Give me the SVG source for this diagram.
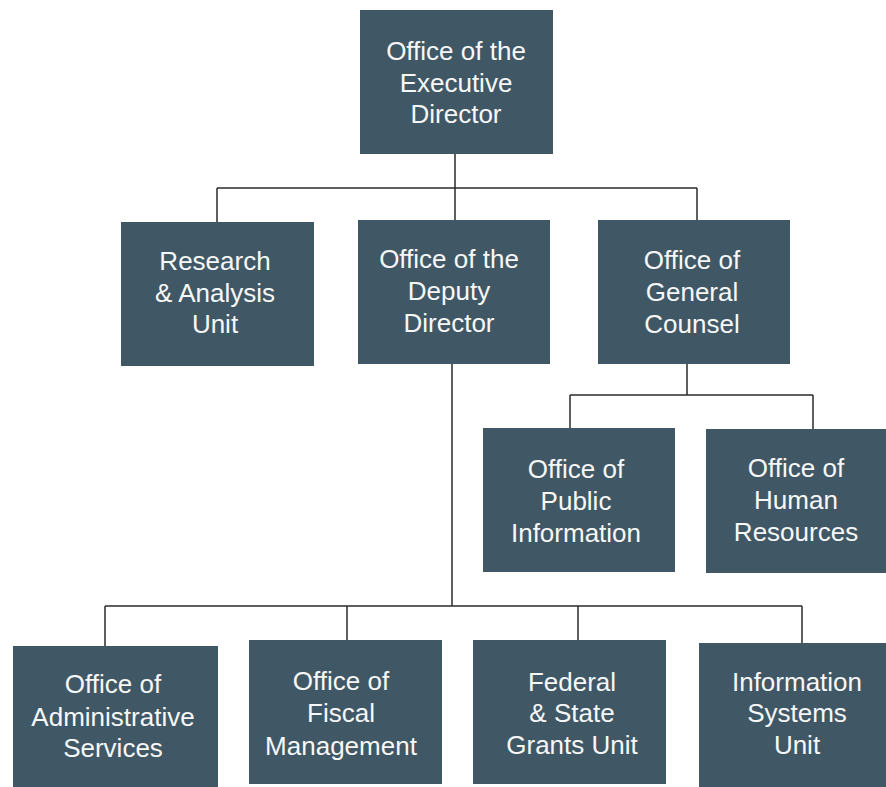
<svg xmlns="http://www.w3.org/2000/svg" width="886" height="787" viewBox="0 0 886 787">
<style>
.box{fill:#405866;}
.t{font-family:"Liberation Sans",Arial,sans-serif;font-size:26px;fill:#f7f7f7;text-anchor:middle;}
.c{stroke:#2b2b2b;stroke-width:1.5;fill:none;}
</style>
<rect width="886" height="787" fill="#ffffff"/>
<g id="connectors">
<path class="c" d="M455,154 V220 M217,188 H697 M217,188 V222 M697,188 V220"/>
<path class="c" d="M452,364 V606 M105,606 H802 M105,606 V646 M347,606 V640 M578,606 V640 M802,606 V643"/>
<path class="c" d="M687,364 V395 M570,395 H813 M570,395 V428 M813,395 V429"/>
</g>
<g id="exec"><rect class="box" x="360" y="10" width="193" height="144"/>
<text class="t" x="456" y="60">Office of the</text><text class="t" x="456" y="92">Executive</text><text class="t" x="456" y="123">Director</text></g>
<g id="research"><rect class="box" x="121" y="222" width="193" height="144"/>
<text class="t" x="215" y="270">Research</text><text class="t" x="215" y="302">&amp; Analysis</text><text class="t" x="215" y="333">Unit</text></g>
<g id="deputy"><rect class="box" x="358" y="220" width="192" height="144"/>
<text class="t" x="449" y="268">Office of the</text><text class="t" x="449" y="300">Deputy</text><text class="t" x="449" y="332">Director</text></g>
<g id="counsel"><rect class="box" x="598" y="220" width="192" height="144"/>
<text class="t" x="692" y="269">Office of</text><text class="t" x="692" y="301">General</text><text class="t" x="692" y="333">Counsel</text></g>
<g id="public"><rect class="box" x="483" y="428" width="192" height="144"/>
<text class="t" x="576" y="478">Office of</text><text class="t" x="576" y="510">Public</text><text class="t" x="576" y="542">Information</text></g>
<g id="hr"><rect class="box" x="706" y="429" width="190" height="144"/>
<text class="t" x="796" y="477">Office of</text><text class="t" x="796" y="509">Human</text><text class="t" x="796" y="541">Resources</text></g>
<g id="admin"><rect class="box" x="13" y="646" width="205" height="150"/>
<text class="t" x="113" y="693">Office of</text><text class="t" x="113" y="726">Administrative</text><text class="t" x="113" y="757">Services</text></g>
<g id="fiscal"><rect class="box" x="249" y="640" width="193" height="144"/>
<text class="t" x="341" y="690">Office of</text><text class="t" x="341" y="722">Fiscal</text><text class="t" x="341" y="755">Management</text></g>
<g id="grants"><rect class="box" x="473" y="640" width="193" height="144"/>
<text class="t" x="572" y="691">Federal</text><text class="t" x="572" y="722">&amp; State</text><text class="t" x="572" y="754">Grants Unit</text></g>
<g id="infosys"><rect class="box" x="699" y="643" width="196" height="150"/>
<text class="t" x="797" y="691">Information</text><text class="t" x="797" y="722">Systems</text><text class="t" x="797" y="754">Unit</text></g>
</svg>
